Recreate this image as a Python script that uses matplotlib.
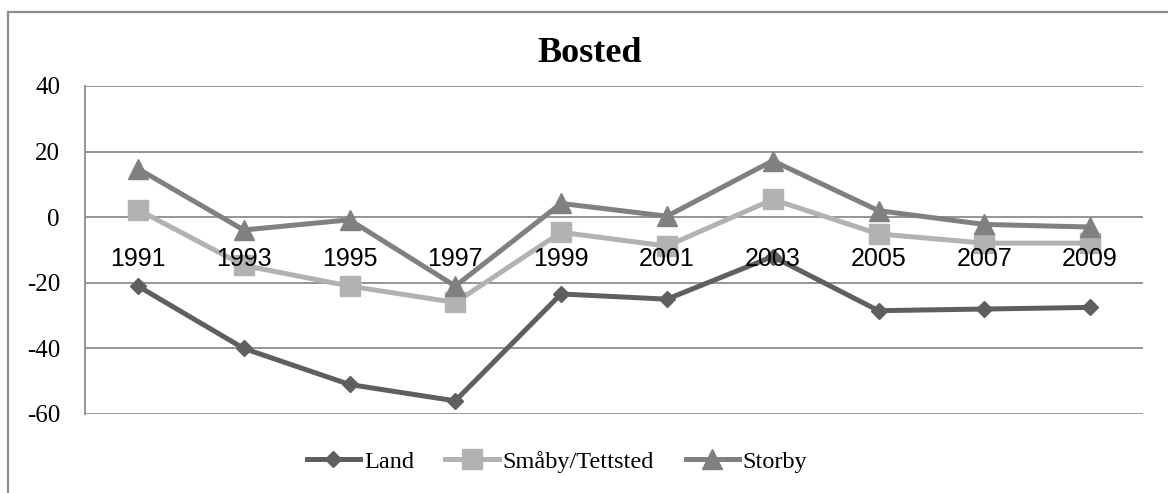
import matplotlib.pyplot as plt
from matplotlib.patches import Rectangle

# data
years = ["1991", "1993", "1995", "1997", "1999", "2001", "2003", "2005", "2007", "2009"]
land = [-21, -40, -51, -56, -23.4, -25, -12, -28.5, -28, -27.5]
smaaby = [2.3, -14.7, -21, -26, -4.6, -8.8, 5.4, -5.1, -7.9, -7.9]
storby = [14.8, -3.9, -0.8, -21, 4.2, 0.3, 17.2, 2, -2.2, -3]

serif = ["Liberation Serif", "DejaVu Serif"]
sans = ["Liberation Sans", "DejaVu Sans"]
plt.rcParams["axes.unicode_minus"] = False

fig = plt.figure(figsize=(11.68, 4.93), dpi=100)

# outer chart frame (right and bottom edges fall outside the picture)
fig.patches.append(Rectangle((8 / 1168, -0.2), 1.2, 1.2 - 12 / 493,
                             transform=fig.transFigure, fill=False,
                             edgecolor="#8c8c8c", linewidth=1.6))

ax = fig.add_axes([85 / 1168, 1 - 414 / 493, 1058 / 1168, 328 / 493])
x = list(range(len(years)))

lw = 3.6
ax.plot(x, land, color="#5f5f5f", linewidth=lw, marker="D", markersize=8,
        label="Land", zorder=3)
ax.plot(x, smaaby, color="#b2b2b2", linewidth=lw, marker="s", markersize=14,
        label="Småby/Tettsted", zorder=3)
ax.plot(x, storby, color="#808080", linewidth=lw, marker="^", markersize=14,
        label="Storby", zorder=3)

ax.set_xlim(-0.5, 9.5)
ax.set_ylim(-60, 40)
ax.set_yticks([-60, -40, -20, 0, 20, 40])
ax.yaxis.grid(True, color="#8c8c8c", linewidth=1.3)
ax.set_axisbelow(True)

for s in ["top", "right", "bottom"]:
    ax.spines[s].set_visible(False)
ax.spines["left"].set_color("#8c8c8c")
ax.spines["left"].set_linewidth(1.3)
ax.tick_params(axis="y", length=0, pad=18, labelsize=18,
               labelfontfamily="Liberation Serif")

# category labels sit under the zero line, drawn over the lines
ax.set_xticks([])
for xi, yr in zip(x, years):
    ax.annotate(yr, (xi, 0), xytext=(0, -30), textcoords="offset points",
                ha="center", va="center", fontsize=18, family=sans, zorder=5)

fig.text(590 / 1168, 1 - 53 / 493, "Bosted", ha="center", va="center",
         fontsize=26, fontweight="bold", family=serif)

fig.legend(loc="center", bbox_to_anchor=(557 / 1168, 1 - 462 / 493), ncol=3,
           frameon=False, prop={"family": serif, "size": 17.5},
           handlelength=2.2, handletextpad=0.15, columnspacing=1.3)

fig.savefig("out.png", dpi=100)
